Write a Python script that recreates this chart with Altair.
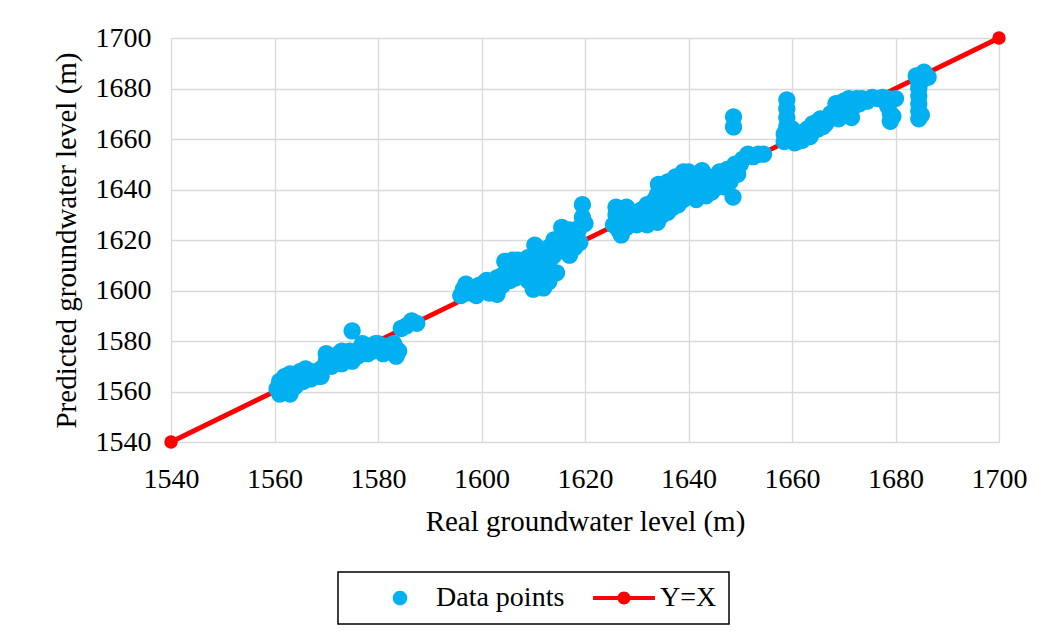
import altair as alt
import pandas as pd

# ---------------- data ----------------
data_x = [
    # cluster ~1560-1588
    1560.5, 1561, 1561.5, 1562, 1562.5, 1562, 1563, 1563.5, 1564, 1565, 1565.5, 1566, 1567, 1568,
    1568.5, 1569, 1570, 1570, 1571, 1572, 1572.5, 1573, 1574, 1574.5, 1575, 1576, 1576.5, 1577,
    1578, 1579, 1579.5, 1580, 1581, 1582, 1582.5, 1583.5, 1583.5, 1584.5, 1585.5, 1586.5, 1587.5,
    1561, 1563, 1564, 1566, 1567, 1569, 1571, 1573, 1575, 1577, 1578, 1580, 1581, 1583, 1584,
    # cluster ~1596-1620
    1596, 1596.5, 1597, 1597.5, 1598, 1598.5, 1599, 1599.5, 1600, 1600.5, 1601, 1601.5, 1602, 1603,
    1603, 1604, 1604.5, 1605, 1605.5, 1606, 1606.5, 1607, 1607.5, 1608, 1609, 1609.5, 1610, 1610.3,
    1610.5, 1611, 1611.5, 1612, 1612.5, 1613, 1613, 1613.5, 1614, 1614.5, 1615, 1615.5, 1616, 1616.5,
    1617, 1617.5, 1618, 1618.5, 1619, 1619.5, 1620,
    1597, 1599, 1601, 1602.5, 1604, 1605, 1606, 1607, 1608, 1609, 1610, 1611, 1612, 1613, 1614,
    1615, 1616, 1617, 1618, 1619, 1619.5, 1611, 1612,
    # cluster ~1625-1655
    1625.5, 1626, 1626.5, 1627, 1627.5, 1628, 1628.5, 1629, 1630, 1630.5, 1631.5, 1632, 1632.5, 1633,
    1633.5, 1634, 1634.2, 1634.5, 1635, 1635.5, 1636, 1636.5, 1637, 1637.5, 1638, 1638.5, 1639,
    1639.5, 1640, 1640.5, 1641, 1641.5, 1642, 1642.6, 1643, 1643.4, 1644, 1644.5, 1645, 1645.5, 1646,
    1646.5, 1647, 1647.5, 1648, 1648.6, 1648.7, 1648.7, 1649, 1649.5, 1650.5, 1651.5, 1652.5, 1653.5,
    1654.5,
    1626, 1627, 1628, 1629, 1630, 1631, 1632, 1633, 1634, 1635, 1636, 1637, 1638, 1639, 1640, 1641,
    1642, 1643, 1644, 1645, 1646, 1647, 1649, 1650, 1640, 1638,
    # cluster ~1658-1686
    1659, 1659, 1659, 1659, 1658.5, 1659.5, 1660, 1660.5, 1661, 1662, 1662.5, 1663.5, 1664, 1665,
    1665.5, 1666.5, 1668, 1668.5, 1669.5, 1670, 1670.5, 1671.5, 1672, 1672.5, 1673.5, 1674.5, 1675.5,
    1676.5, 1677.5, 1678.5, 1678.5, 1679, 1679, 1678, 1684.5, 1684.5, 1684.5, 1684.5, 1684.5, 1685,
    1685.5, 1686.3, 1685,
    1658.5, 1660, 1661, 1663, 1664, 1665, 1666, 1667, 1667.5, 1669, 1670, 1671, 1671, 1673, 1680,
    1679.5, 1684.5, 1684,
]
data_y = [
    1561, 1559, 1562, 1560, 1563, 1566, 1559, 1562, 1565, 1568, 1564, 1566, 1565, 1567,
    1566, 1569, 1572, 1575, 1570, 1573, 1575, 1571, 1574, 1576, 1584, 1574, 1577, 1575,
    1578, 1576, 1579, 1577, 1575, 1578, 1576, 1574, 1577, 1585, 1586, 1588, 1587,
    1564, 1567, 1562, 1569, 1568, 1566, 1573, 1576, 1572, 1579, 1575, 1579, 1578, 1579, 1576,
    1598, 1600.5, 1599, 1601.5, 1599, 1601, 1600, 1602, 1600, 1603, 1601, 1599, 1603, 1598.5,
    1605, 1602, 1611.5, 1607, 1604, 1609, 1605, 1612, 1610, 1606, 1604, 1608, 1600.5, 1618,
    1611, 1602, 1614, 1606, 1610, 1603.5, 1617, 1613, 1620, 1607, 1616, 1625, 1622, 1619,
    1614, 1621, 1617, 1623, 1619, 1634, 1626.5,
    1602.5, 1598, 1604, 1601, 1606, 1610, 1612, 1607, 1611, 1613, 1607, 1610, 1616, 1608, 1614,
    1619, 1616, 1624, 1620, 1625, 1629, 1604, 1601,
    1626, 1630, 1624, 1628, 1632, 1625, 1630, 1627, 1631, 1628, 1629, 1626, 1632, 1629,
    1636, 1627, 1642, 1633, 1639, 1635, 1631, 1641, 1637, 1645, 1634, 1640, 1647,
    1643, 1638, 1645, 1641, 1636, 1644, 1647.5, 1640, 1637.5, 1643, 1639, 1645, 1641, 1643,
    1646, 1641, 1648, 1643, 1637, 1664.8, 1668.8, 1650, 1646, 1652, 1654, 1653, 1654,
    1654,
    1633, 1622, 1633, 1630, 1626, 1632, 1634, 1632, 1638, 1630, 1643, 1633, 1643, 1636, 1647, 1639,
    1641, 1646, 1641, 1643, 1647, 1646, 1648, 1650, 1641, 1638,
    1675.5, 1672, 1668.5, 1665, 1662, 1660, 1664, 1658.5, 1662, 1659.5, 1663, 1661, 1666, 1664,
    1668, 1666, 1670, 1674, 1672, 1675, 1670, 1668.5, 1673, 1676, 1676, 1675, 1676.5,
    1676, 1676.5, 1676, 1673, 1670, 1667, 1675, 1668, 1671, 1674, 1677, 1680, 1683,
    1686.5, 1684.5, 1669.5,
    1659, 1661, 1659, 1664, 1663, 1667, 1665, 1668, 1670, 1668, 1673, 1671, 1676, 1674, 1676,
    1669, 1682, 1685,
]
line_x = [1540, 1700]
line_y = [1540, 1700]
axis_ticks = [1540, 1560, 1580, 1600, 1620, 1640, 1660, 1680, 1700]
series_names = ["Data points", "Y=X"]
series_colors = ["#00b0f0", "#ff0000"]

# ---------------- tables ----------------
pts = pd.DataFrame({"real": data_x, "pred": data_y})
pts["series"] = series_names[0]
ln = pd.DataFrame({"real": line_x, "pred": line_y})
ln["series"] = series_names[1]

FONT = "Liberation Serif"
circle_path = "M0.56,0 A0.56,0.56 0 1,1 -0.56,0 A0.56,0.56 0 1,1 0.56,0 Z"
yx_path = ("M-2.38,-0.16 L2.38,-0.16 L2.38,0.16 L-2.38,0.16 Z "
           "M0.5,0 A0.5,0.5 0 1,1 -0.5,0 A0.5,0.5 0 1,1 0.5,0 Z")

xscale = alt.Scale(domain=[1540, 1700], nice=False, zero=False)
yscale = alt.Scale(domain=[1540, 1700], nice=False, zero=False)

x_axis = alt.Axis(values=axis_ticks, format="d", title="Real groundwater level (m)",
                  labelPadding=23, titlePadding=14, labelFlush=False)
y_axis = alt.Axis(values=axis_ticks, format="d", title="Predicted groundwater level (m)",
                  labelPadding=20, titlePadding=14, labelFlush=False)

legend = alt.Legend(title=None, orient="none", legendX=167, legendY=534,
                    direction="horizontal", symbolSize=676, symbolStrokeWidth=0,
                    labelOffset=22, columnPadding=9, symbolOffset=36, padding=12,
                    strokeColor="black")

points = alt.Chart(pts).mark_point(filled=True, size=950, opacity=1).encode(
    x=alt.X("real:Q", scale=xscale, axis=x_axis),
    y=alt.Y("pred:Q", scale=yscale, axis=y_axis),
    color=alt.Color("series:N", scale=alt.Scale(domain=series_names, range=series_colors),
                    legend=legend),
    shape=alt.Shape("series:N", scale=alt.Scale(domain=series_names,
                                                range=[circle_path, yx_path]),
                    legend=legend),
)

line = alt.Chart(ln).mark_line(color=series_colors[1], strokeWidth=4.8).encode(
    x=alt.X("real:Q", scale=xscale),
    y=alt.Y("pred:Q", scale=yscale),
)
ends = alt.Chart(ln).mark_circle(color=series_colors[1], size=180, opacity=1).encode(
    x=alt.X("real:Q", scale=xscale),
    y=alt.Y("pred:Q", scale=yscale),
)

chart = alt.layer(line, points, ends).properties(
    width=828, height=404,
    autosize=alt.AutoSizeParams(type="none"),
    padding={"left": 171, "top": 38, "right": 49, "bottom": 193},
    background="white",
).configure_view(stroke=None).configure_axis(
    labelFont=FONT, labelFontSize=28, labelColor="black",
    titleFont=FONT, titleFontSize=29, titleFontWeight="normal", titleColor="black",
    ticks=False, domain=False, gridColor="#d9d9d9", gridWidth=1.3,
).configure_legend(
    labelFont=FONT, labelFontSize=28, labelColor="black", strokeWidth=1.5,
)

chart.save("out.html", embed_options={"renderer": "svg", "actions": False})
